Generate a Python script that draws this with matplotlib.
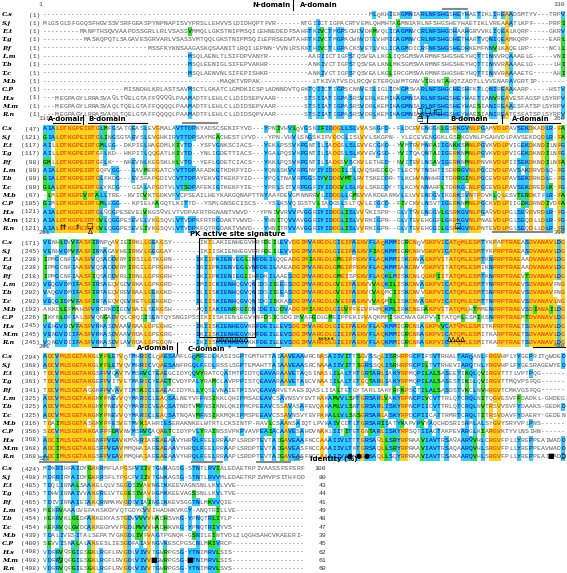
import matplotlib.pyplot as plt
from matplotlib.patches import Rectangle
from collections import Counter

# species labels and % identity
names = ['C.s', 'S.j', 'E.t', 'T.g', 'P.f', 'L.m', 'T.b', 'T.c', 'M.b', 'C.P', 'H.s', 'M.m', 'R.n']
identity = [100, 80, 43, 44, 41, 49, 48, 47, 39, 45, 62, 61, 60]

# first residue number of each row in each block
starts = [
    [1] * 13,
    [47, 121, 117, 117, 98, 80, 80, 80, 67, 105, 121, 121, 121],
    [171, 245, 238, 238, 218, 202, 202, 202, 193, 226, 245, 245, 245],
    [294, 368, 361, 361, 341, 325, 325, 325, 316, 356, 368, 368, 368],
    [424, 498, 485, 485, 465, 454, 454, 454, 439, 480, 498, 498, 498],
]
block_first = [1, 131, 261, 391, 521]
block_last = [130, 260, 390, 520, 585]

# block 1 (cols 1-130), left part / right part
b1_left = [
    "-" * 59,
    "MLGSGLSFGGQSFHGVSSVSRFGEASPYNPNAPISVYPRSLLEHVVSLDIDHQPTFVR",
    "---------MANPTHSQVVAAPDSSGRLLRLVSASSVMMQLLGKSTNIPMSQILEHNEDEDH",
    "----------MASKQPQTLSAGAVESGRVARLVSASSVMTQQLGKSTNIPMSQILEPRSEED",
    "--------------------------MSSFKYKNSAAGASKQSAANITLRQILEPNN-VNI",
    "------------------------------------MSQLAENLTLSIFDPVANYR----",
    "------------------------------------MSQLEENIGLSIFEPVAKHR----",
    "------------------------------------MSQLAENVNLSIFEPISHKR----",
    "--------------------------------------------MAQKTVRPAK------",
    "--------------------MISNDHLKRLASTSAVMSCTLGKATCLGMDKICSPLADNDV",
    "---MEGPAGYLRRASVAQLTQELGTAFFQQQQLPAAMADTFLEHLCLLDIDSEPVAAR---",
    "---MEGPAGYLRRASVAQLTQELGTAFFQQQQLPAAMADTFLEHLCLLDIDSEPVAAR---",
    "---MEGPAGYLRRASVAQLTQELGTAFFQQQQLPAAMADTFLEHLCLLDIDSQPVAAR---",
]
b1_right = [
    "---------------------MLQKHIEKGMNIARLNFSHGSHEYHAETIKLIREAADSMTYV---TRPV",
    "NTGIICTIGPACRTVEMLQHMHTAGMNIARLNFSHGSHEYHAETIKLVREAAATLKPF----PRPI",
    "EDFSAHRTKIVCTMGPSCWDVDKMVQLIDAGMNVCRLNFSHGDHAAHGRVVKLIQEALKQRP-----GKRV",
    "EDWTAHRTKIVCTMGPACWNVDTLVHMIDAGMNVCRLNFSHGDHETHARTVQNIQEAMKQRP-----EARL",
    "VNLRSKKTHIVCTLGPACKSVETLVKLIDAGMDICRFNFSHGSHEDHKEMFNNVLKAQELRP-----NCLL",
    "------AARIICTIGPSTQSVEALKGLIQSGMSVARMNFSHGSHEYHQTTINNVRQAAAELG-----VNI",
    "------ANKIVCTIGPSTQSVEALKNLMKSGMSVARMNFSHGSHEYHQTTINNVRAAAAELG-----LHI",
    "------ANKIVCTIGPSTQSVEALKGLIRCGMSVARMNFSHGSHEYHQTTINNVRAAAAETG-----AHI",
    "------LTKIVATVSDLRCQVETERQLWMTGNVVIRLNTAHQTZADTLLVVENARAVGRTIP-------",
    "NDVTQRKTQIICTIGPSCNNVESLIGLIDKGMSVARLNFSHGCHESHFKTLQNIREAAKARP-----HSTV",
    "------STSIIATIGPASRSVERLKEMIKAGMNIARLNFSHGSHEYHAETIANVREAVESFAGSPLSYRPV",
    "------STSIIATIGPASRSVDRLKEMIKAGMNIARLNFSHGSHEYHAESIANIREAAESFATSPLSYRPV",
    "------STSIIATIGPASRSVDRLKEMIKAGMNIARLNFSHGSHEYHAESIANIREATESFATSPLSYRPV",
]
# block 2 (cols 131-260)
b2_left = [
    "AIALDTKGPEIRTGLMFGSATGEASLEVGMALAVTTDPKYADSCSEKIFYVD---YPNIVK",
    "GIALDTKGPEIRTGLINGSGTAEVSLEVGHKIRVTTDPSAYMEACHESTLYVD---YPNIVH",
    "AILLDTKGPEIRTGMLEG--DKPIELHAGDMLKIVTD--YSFVGNKSCIACS---YEKLPSS",
    "AILLDTKGPEIRTGFLKD--HKPITLQQGATLKIVTD--YNLIGDETTIACS---YGALPQS",
    "GMLLDTKGPEIRTGFLK---NKEVNLKEGSKLKLVTD--YEFLGDETCIACS---YKKLPQS",
    "AIALDTKGPEIRTGQFVGG---EAVMERGATCYVTTDPAFADKGTKDKFYID---YQNLSKV",
    "GIALDTKGPEIRTGLFKDG---EVSFAPGDIVCVTTDPAYEKVGTKEKFYID---YPQLTNA",
    "GLALDTKGPEIRTGLYKDG---GIALAPGDTVLVTSDPAFEKIGTKEKFYIE---YPRLSIT",
    "-LMLDTKGPEVRTALLTRE--KVIDVKTGDKVFVCPSEAILHEYKAKGQNAPTTNYAAFTDE",
    "GIMLDTKGPEIRTGMLEGG---KPIELKAGQTLKITTD--YSMLGNSECISCS---YSLLPKS",
    "AIALDTKGPEIRTGLQGGPESEVELVKGSQVLVTVDPAFRTRGNANTVWVD---YPNIVRV",
    "AIALDTKGPEIRTGVLQGGPESEVELVKGSQVLVTVDPKFRTRGDAKTVWVD---YHNITRV",
    "AIALDTKGPEIRTGVLQGGPESEVEIVKGSQVLVTVDPKFQTRGDAKTVWVD---YHNITRV",
]
b2_right = [
    "VHVLQVGSKIFIDDGLLSLVVASKGPD--FLDCEVENGGKLGSRKGVNLPGAMVDLPAVSEKDKADLR-FA",
    "VHVLSNGSKIFVDDGLISLVVLSKGPN--YLECEVENGGKLGSRKGVNLPGAHVDLPAVSEKDQDLR-FA",
    "PSSVKPGNTILIADGSLSLEVVECGKD--YVMTRVMNPAIIGNKKSMNLPGVKVDLPVIGEKDKNDILNFG",
    "PQSVKPGNTILIADGSLSLKVVEVGSD--YVITQAQNTAIIGERKNMNLPGVKVDLPVIGEKDKNDILNFG",
    "PQSVKPGNTILIADGSVSCKVLETHED--NVITEVLNSAVIGERKNMNLPNVKVDLPIISEKDKNDILNFA",
    "SKVVRPGNYIYIDDGILILQVQSHEDEQ-TLECTVTNSHTISDRRGVNLPGCDVDLPAVSAKDRVDLQ-FG",
    "TNAVRPGGSIYVDDGVMTLRVTSKEDDR-TLKCHVNNHHRITDRRGINLPGCEVDLPAVSEKDRKDLE-FG",
    "SITVRPGGFIYIDDGVLSLKVLSKEDDY-TLKCYVNNAHPLTDRKGCNLPGCEVDLPAVSEKDREDLK-FG",
    "TDEVGMNNRRVLIDDGLLGMEVVAKDEARKVLELVVENDGVIKGRKSVNTPDVKLQLESVTERDKTFLR-FA",
    "PKSVQIGSTVLIADGSLSLTQVLEIGCD--FIVCKVLNSVTIGERKNMNLPGCKVDLPIIGDKDRNDIVDFA",
    "VRVVPVGGRIYIDDGLISLVVQKISPR--GLVTQVENGGVLGSRKGVNLPGAQVDLPGLSEQDVRDLR-FG",
    "TQVVAVGGRIYIDDGLISLVVRKIGPR--GLVTEVEHGGFLGKRKGVNLPNAEVDLPGLSEQDLLDLR-FG",
    "TRVVAVGGRIYIDDGLISLVVRKIGPR--GLVTEVEHGGILGSRKGVNLPNTEVDLPGLSEQDLLDLR-FG",
]
# block 3 (cols 261-390)
b3_left = [
    "VENHLDVVFASFIRNPQAVIEIRKLLGEAGSY-------IKILAKIENHEGVKRFDEILEV",
    "VENHVDMVFASFIRNAGAVHEIRKVLGEGGAY-------IKIISKIENHEGVRRFDEILEV",
    "IPMGCNFIAASFVQSADDVRYIRSILGTKGRN------IKIIPKIENVEGLINFDEILQE",
    "IPMGCNFIAASFVQSADDVRYIRGILGPRGRH------IRIIPKIENVEGLVNFDEILAE",
    "IPMGCNFIAASFIQSADDVRLIRNLLGPRGRH------IKIIPKIENIEGIIHFDKILAE",
    "VEQGVDMIFASFIRSAEQVGDVRKALGPKGRD------IMIICKIENHQGVQNIDSIIEE",
    "VAQGVDMIFASFIRTAEQVREVRAALGEKGKD------ILIISKIENHQGVQNIDSIIEA",
    "VEQGIDMVFASFIRTAEQVQEVRETLGEKGKD------ILIISKIENHQGVQNIDGIIKA",
    "AKKDLEFMAHSFVRCRKDIEDVRAILSEKGSH------AQIIAKIENRRGIDNIDEILDV",
    "IKYNLDFIALSFVQNGADVQLCRQIISENTQYSNGIPSSIKIISKIENLEGVYNFDSICSE",
    "VEHGVDIVFASFVRKASDVAAVRAALGPEGHG------IKIISKIENHEGVKRFDEILEV",
    "VENGVDIIFASFVRKASDVAAVRDALGPEGRG------IKIISKIENHEGVKKFDEILEV",
    "VQNGVDIIFASFVRKASDVLAVRDALGPEGQN------IKIISKIENHEGVKKFDEILEV",
]
b3_right = [
    "EVVDGIMVARGDLGIEIPAEKVFLAQKMMIGRCNQVGKPVICATQMLESMTYKPAPTRAEASDVANAVLDG",
    "EVVDGIMVARGDLGIEIPAEKVFIAQKMMIGRCNRVGKPVICATQMLESMTYKPRPTRAEASDVANAVLDG",
    "QEADGIMIARGDLGMEIPPEKVFLAQKMMISKCNVAGKPVITATQMLESMTKNPRPTRAEAADVANAVLDG",
    "AEADGIMVARGDLGMEIPPEKVFLAQKMMIAKCNVVGKPVITATQMLESMIKNPRPTRAEAADVANAVLDG",
    "AESDGIMVARGDLGMEISPEKVFLAQKLMISKCNLQGKPIITATQMLESMTKNPRPTRAEVTDVANAVLDG",
    "EESDGIMVARGDLGVEIPAEKVVVAQKILISKCNVAGKPVICATQMLESMTYNPRPTRAEVSDVANAVFNG",
    "EASDGIMVARGDLGVEIPAEKVCVAQMCIISKCNVVGKPVICATQMLESMTSNPRPTRAEVSDVANAVFNG",
    "KASDGIMVARGDLGVEIPAEKVVVAQMILISKCNVAGKPVICATQMLESMTTNPRPTRAEVSDVANAVLNG",
    "GDVADGIMIARGDLGIEVPFEEVPHMQKMLIRKCNERAKPVITATQMLHTMMENPRPTRAEVSDIANAILDG",
    "SESDGIMVARGDLGMEIPPEKIFVAQKMMISKCNVAGKPVVITATQMLESMIKSNPRPTRAEMTDVANAVLDG",
    "EVSDGIMVARGDLGIEIPAEKVFLAQKMMIGRCNLAGKPVVCATQMLESMITKPRPTRAETSDVANAVLDG",
    "EVSDGIMVARGDLGIEIPAEKVFLAQKMMIGRCNRAGKPVICATQMLESMITKARPTRAETSDVANAVLDG",
    "EVSDGIMVARGDLGIEIPAEKVFLAQKMMIGRCNRAGKPVICATQMLESMITKARPTRAETSDVANAVLDG",
]
# block 4 (cols 391-520)
b4_left = [
    "ADCVMLSGETAKGLYPLETVQTMHRICLQAESAMFLGQMFEDLKASISGPTGMTHTTAIAA",
    "ADCVMLSGETAKGLYPLETVQVMHRICVQAESANFRGQLFEDLRSSLSGPTEMAHTTAIAA",
    "TDCVMLSGETAKGSFPVQAVTVMSRVCTEAEGCIDYQQVYRATCQATMTPIDTQEAVARAA",
    "TDCVMLSGETAKGEFPVITVETMARICYEAETCVDYPALYRAMCLAVPPPISTQEAVARAA",
    "TDCVMLSGETAGGKFPVVAVTIMSKICLEAEACIDYKLLYQSLVNAIETPISVQEAVARSA",
    "ADCVMLSGETAKGKYPNEVVQYMARICLEAQSALNEYVFFNSIKKLQHIPMSADEAVCSAA",
    "ADCVMLSGETAKGKYPNEVVQYMARICVEAQSATNDTVMFNSIKNLQKIPMCPEEAVCSSA",
    "ADCVMLSGETAKGKYPNEVVQYMARICLEAQSATNQAVMFNSIKKMQKIPMSPEEAVCSSA",
    "TDAIMLSGETASGKYPFESVETMVKIAHRIESERAKNKELWTRTLCKSINTP-RAVLCSAA",
    "SDCVMLSGETAKGAFPFDAVNVMSRVCAQAETCIDYPVLYRAINSSVPKPVAVPEAIACSA",
    "ADCIMLSGETAKGNFPVEAVKMQHRIAREAEAAVYHRQLFEELRRAAPLSRDPTEVTAIGA",
    "ADCIMLSGETAKGSFPVEAVMMQHAIAREAEAAVYHRQLFEELRRAAPLSRDPTEVTAIGA",
    "ADCIMLSGETAKGSFPVEAVMMQHAIAREAEAAVYHRQLFEELRRAAPLSRDPTEVTAIGA",
]
b4_right = [
    "AAVEAAWRCNASAIIVITTSGVSSQLISRHRPRCPIFSVTRHALTARQANLFRGVHPLYYGEPRITQWDED",
    "AAVEAASRCNAAAIIVITTSGRSSQLISRHRPRCPILTVTRHEVIARQTHLYRGVHPLFYGESRAGEWYED",
    "AAVETAQSINASLILALTKTGRTARLIAKYRPMQPILALSASEETIKQLQVIRGVTTTLVPTPQG------",
    "AAVETAECVNAAIILALTETGQTARLIAKYRPMQPILALSASESTIKSLQVIRGVTTMQVPSFQG------",
    "AAVETAESIQASLIIALTETGYTARLIAKYRPKPSCTILALSASDSTVKCLNVHRGVTCMKVGSFQG------",
    "SAVNSVYEVTKAKAMVVLSMTGRSARLVAKYRPNCPIVCVTTRLQTCRQLNITQGVESVFFDADKL-GHDEG",
    "SAVASAFEVQAKAMLVLSNTGRSARLISKYRPNCPIICVTTRLQTCRQLNVTRSVVSVFYDAAKS-GEDKD",
    "SAVNSVYEVPAKALLVLSNSGRSARLASKYRPDCPIICATTRMRTCRQLTITRSVDAVFYDAERY-GEDEN",
    "AANSAIQTLPVKAIVCDTLTGRSARIIATYKAPVPVYAQCHDSRISRMLALSYGVYSRYVPLPNS------",
    "AAVESAHDVNAKLIITITETGNTARLISKYRPSQTIIACTAKPEVARGLKIARGVKTYVLNSIHN------",
    "GAVEAAFKCCAAAIIVLTTTGRSAQLLSRYRPRAAVIAVTRSAQAARQVHLCRGVFPLLYREPPEAIWADD",
    "GAVEASFKCCAAAIIVLTKTGRSAQLLSRYRPRAAVIAVTRSAQAARQVHLSRGVFPLLYREPPEAVWADD",
    "GAVEASFKCCAAAIIVLTKTGRSAQLLSQYRPRAAVIAVTGSAKAARQVHLSRGVFPLLYREPPEAIWADD",
]
# block 5 (cols 521-585)
b5 = [
    "MDKRIHFAIDYGKKRMFLAPGSFVIIVTGWKAGSG-STNTLRVIALEDAETKPIVAASSFSFSRF--",
    "MDRRIRYAIDYGKKRSFLTPGCFVIIVTGWKAGSG-STNTLRVVMLEDAETKPIVMVPSITHFDD",
    "TDQLIRNALSAAKELQLVSEGDSIVAVNGIKKEEVAGNSNLLKVLVVE",
    "TDHVIRNAIVVAKERELVTEGESIVAVHGMKKEEVAGSSNLLKVLTVE",
    "TDIVIRNAIEIAKQRNMAKVGDSVIAINGIKKEVSGGTNLMKVVQIE",
    "MEKRVAAAGVEFAKSKGYVQTGDYCVVIHADHKVKGY-ANQTRILLVE",
    "KEKRVKLGLDFAKKEKYASTGDVVVVVHADHSVKG-YPNQTRLIYLP",
    "KEKRVQLGVDCAKKEGYVVPGDLMVVVHADHKVKG-YPNQTRIVYVS",
    "TDALIVESITALSEPATVGKGDLIVFVAGTPGNQK-GSNILEINTVDLILQGHSAHCVKAEERI",
    "SEVVISNALALAKEESLIESGDFAIAVNGVKESCPGSCNLMKIVRCP",
    "VDRRVQFGIESGKLRGFLRVGDLVIVVTGWRPGSG-YTNIMRVLSIS",
    "VDRRVQFGIESGKLRGFLRVGDLVIVVTGWRPGSG-YTNIMRVLSIS",
    "VDRRVQFGIESGKLRGFLRVGDLVIVVTGWRPGSG-YTNIMRVLSVS",
]


def join(left, right, nl=59, nr=71):
    rows = []
    for a, b in zip(left, right):
        a = a[:nl].ljust(nl, '-')
        b = b[-nr:].rjust(nr, '-')
        rows.append(a + b)
    return rows


blocks = [join(b1_left, b1_right), join(b2_left, b2_right), join(b3_left, b3_right),
          join(b4_left, b4_right), [r[:65].ljust(65, '-') for r in b5]]

groups = ['ILVM', 'FYW', 'KRH', 'DE', 'ST', 'NQ', 'AG']


def similar(a, b):
    return any(a in g and b in g for g in groups)


YEL, CYA, GRN = '#FFD21F', '#33CCFF', '#2EE62E'
X0, CW, RH = 43, 4.015, 8.3
block_y = [15, 129, 243, 357, 469]
mono = 'Liberation Mono'

fig = plt.figure(figsize=(5.67, 5.73), dpi=100)
ax = fig.add_axes([0, 0, 1, 1])
ax.set_xlim(0, 567)
ax.set_ylim(573, 0)
ax.axis('off')

for bi, rows in enumerate(blocks):
    y0 = block_y[bi]
    ncol = len(rows[0])
    for ri, name in enumerate(names):
        y = y0 + ri * RH
        ax.text(2, y, name, fontsize=4.6, family='DejaVu Serif', weight='bold',
                style='italic', va='center')
        ax.text(40, y, '(%d)' % starts[bi][ri], fontsize=4.5, family=mono,
                va='center', ha='right', color='#333333')
    for c in range(ncol):
        col = [r[c] for r in rows]
        res = [a for a in col if a != '-']
        if not res:
            cons, k = None, 0
        else:
            cons, k = Counter(res).most_common(1)[0]
        for ri, a in enumerate(col):
            y = y0 + ri * RH
            x = X0 + c * CW
            bg, fg = None, '#555555'
            if a != '-' and cons is not None:
                if a == cons and k >= 11:
                    bg, fg = YEL, '#E02000'
                elif a == cons and k >= 6:
                    bg, fg = CYA, '#0000A0'
                elif k >= 6 and similar(a, cons):
                    bg, fg = GRN, '#000000'
            if bg:
                ax.add_patch(Rectangle((x, y - RH / 2), CW, RH, color=bg, lw=0))
            ax.text(x + CW / 2, y, a, fontsize=4.6, family=mono, ha='center',
                    va='center', color=fg)
    # position numbers above the block
    ax.text(X0 - 4, y0 - 10, str(block_first[bi]), fontsize=4.6, family=mono,
            color='#444444', va='center')
    if bi < 4:
        ax.text(565, y0 - 10, str(block_last[bi]), fontsize=4.6, family=mono,
                color='#444444', va='center', ha='right')
    else:
        ax.text(X0 + 65 * CW, y0 - 10, str(block_last[bi]), fontsize=4.6,
                family=mono, color='#444444', va='center', ha='right')
        ax.text(310, y0 - 10, 'identity (%)', fontsize=5.0, weight='bold', va='center')
        for ri, v in enumerate(identity):
            ax.text(326, y0 + ri * RH, str(v), fontsize=4.6, family=mono,
                    ha='right', va='center', color='#333333')

lab = dict(fontsize=5.0, weight='bold', va='center')
sym = dict(fontsize=5.0, ha='center', va='center')


def hbar(x1, x2, y, color='black', lw=0.8):
    ax.plot([x1, x2], [y, y], color=color, lw=lw)


def vbar(x, y1, y2):
    ax.plot([x, x], [y1, y2], color='black', lw=0.8)


# block 1 annotations
ax.text(252, 5, 'N-domain', **lab)
vbar(293, 0, 10)
ax.text(300, 5, 'A-domain', **lab)
hbar(443, 467, 9, '#888888', 1.5)
for x, s in [(420, '\u25a1'), (428, '\u25a1'), (438, '\u2020\u25a1')]:
    ax.text(x, 111, s, **sym)
ax.text(420, 117, '\u0394', **sym)
ax.text(428, 117, '\u2020', **sym)

# block 2 annotations
ax.text(48, 119, 'A-domain', **lab)
vbar(83, 115, 124)
ax.text(88, 119, 'B-domain', **lab)
hbar(53, 80, 123)
hbar(88, 147, 123)
hbar(183, 217, 123, '#888888', 1.5)
ax.text(420, 119, '\u25a1', **sym)
vbar(427, 115, 123)
ax.text(450, 119, 'B-domain', **lab)
hbar(420, 497, 123)
vbar(502, 115, 123)
ax.text(512, 119, 'A-domain', **lab)
hbar(510, 560, 123)
for x, s in [(63, '\u2020\u2020'), (78, '\u2020'), (90, '\u25a1')]:
    ax.text(x, 226, s, **sym)
ax.text(90, 232, '\u0394', **sym)
ax.text(458, 226, '\u25a1', **sym)

# block 3 annotations
ax.text(190, 234, 'PK active site signature', **lab)
ax.add_patch(Rectangle((199, 238), 56, 99, fill=False, lw=0.8, ec='black'))
ax.text(233, 340, '\u0394' * 7, **sym)
ax.text(326, 340, '*****', **sym)
ax.text(456, 340, '\u0394' * 4, **sym)
hbar(493, 550, 232, '#888888', 1.5)

# block 4 annotations
hbar(92, 115, 347)
ax.text(137, 348, 'A-domain', **lab)
vbar(177, 343, 353)
ax.text(188, 349, 'C-domain', **lab)
ax.text(230, 348, '*', **sym)
hbar(237, 280, 347)
hbar(533, 565, 347)
for x in [350, 359, 367]:
    ax.text(x, 456, '\u25cf', **sym)
ax.text(551, 456, '\u25a0', **sym)
ax.text(563, 456, '\u25cb', **sym)

# block 5 annotations
hbar(40, 77, 462, '#888888', 1.5)
hbar(192, 222, 462, '#888888', 1.5)
hbar(257, 290, 462, '#888888', 1.5)
ax.text(60, 560, '\u25cb', **sym)
ax.text(154, 560, '\u25a0', **sym)
ax.text(190, 560, '\u25a0', **sym)

fig.savefig('out.png', dpi=100)
